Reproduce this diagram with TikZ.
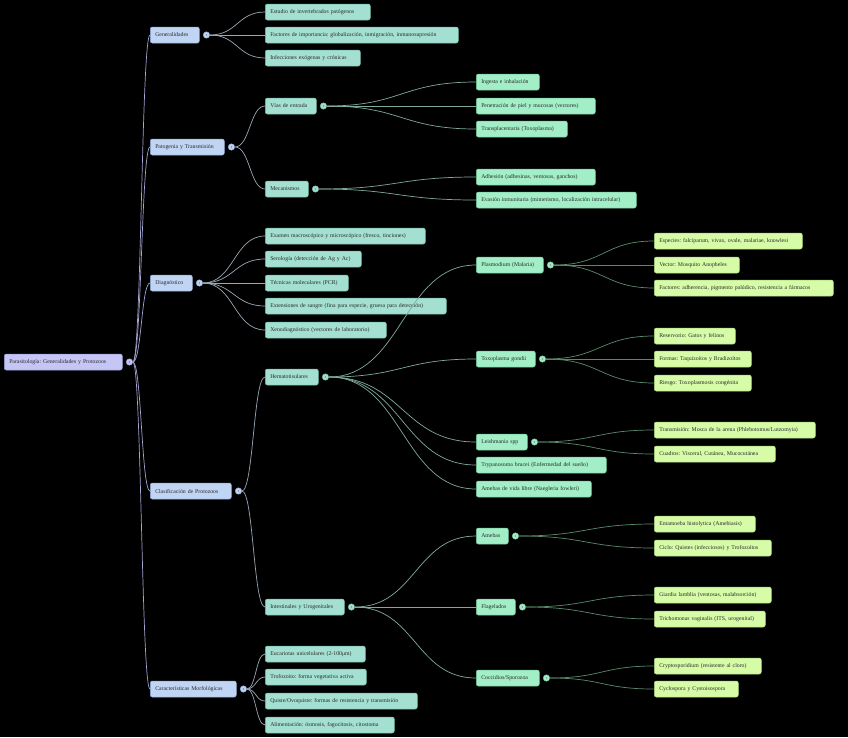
\documentclass[tikz,border=0pt]{standalone}
\usepackage{fontspec}
\setmainfont{Liberation Serif}
\usetikzlibrary{positioning,calc}
\frenchspacing
\definecolor{txt}{HTML}{2A2A2A}
\definecolor{c0}{HTML}{C5C6F6}\definecolor{c0d}{HTML}{9A9CD8}
\definecolor{c1}{HTML}{C0D5F3}\definecolor{c1d}{HTML}{90AAD4}
\definecolor{c2}{HTML}{A3E0D1}\definecolor{c2d}{HTML}{74B4A4}
\definecolor{c3}{HTML}{A2EEC6}\definecolor{c3d}{HTML}{72C49A}
\definecolor{c4}{HTML}{D6FCA8}\definecolor{c4d}{HTML}{A8D27E}
\definecolor{e0}{HTML}{A4A4D0}
\definecolor{e1}{HTML}{9AA8B4}
\definecolor{e2}{HTML}{80AA9C}
\definecolor{e3}{HTML}{5A8A6C}
\tikzset{
  box/.style={draw, rounded corners=2pt, anchor=west, minimum height=16pt,
    inner xsep=5pt, inner ysep=0pt, align=left, text=txt, line width=0.5pt,
    font=\fontsize{5.8}{6.8}\selectfont},
  lv0/.style={box, fill=c0, draw=c0d},
  lv1/.style={box, fill=c1, draw=c1d},
  lv2/.style={box, fill=c2, draw=c2d},
  lv3/.style={box, fill=c3, draw=c3d},
  lv4/.style={box, fill=c4, draw=c4d},
  tog/.style={circle, inner sep=0pt, minimum size=6.5pt, line width=0.4pt,
    path picture={\draw[line width=0.35pt, txt!60]
      ([shift={(0.6pt,1pt)}]path picture bounding box.center)
      -- ++(-1.2pt,-1pt) -- ++(1.2pt,-1pt);}},
  link/.style={to path={let \p1=(\tikztostart), \p2=(\tikztotarget.west) in
    (\p1) .. controls ({(\x1+\x2)/2},\y1) and ({(\x1+\x2)/2},\y2) .. (\p2)}},
}
\begin{document}
\begin{tikzpicture}[x=1pt,y=-1pt]
  \fill[black] (0,0) rectangle (848,737);
  \useasboundingbox (0,0) rectangle (848,737);
  % root and first level
  \node[lv0, text width=108pt] (root) at (4,362) {Parasitología: Generalidades y Protozoos};
  \node[lv1, text width=39pt] (gen) at (150,35) {Generalidades};
  \node[lv1, text width=64pt] (pat) at (150,147) {Patogenia y Transmisión};
  \node[lv1, text width=32pt] (diag) at (150,283) {Diagnóstico};
  \node[lv1, text width=71pt] (clas) at (150,491) {Clasificación de Protozoos};
  \node[lv1, text width=76pt] (carac) at (150,689) {Características Morfológicas};
  % second level
  \node[lv2, text width=95pt] (estudio) at (265,12) {Estudio de invertebrados patógenos};
  \node[lv2, text width=183pt] (factimp) at (265,35) {Factores de importancia: globalización, inmigración, inmunosupresión};
  \node[lv2, text width=85pt] (infec) at (265,58) {Infecciones exógenas y crónicas};
  \node[lv2, text width=41pt] (vias) at (265,106) {Vías de entrada};
  \node[lv2, text width=33pt] (mec) at (265,189) {Mecanismos};
  \node[lv2, text width=150pt] (examen) at (265,236) {Examen macroscópico y microscópico (fresco, tinciones)};
  \node[lv2, text width=86pt] (sero) at (265,259) {Serología (detección de Ag y Ac)};
  \node[lv2, text width=73pt] (tecn) at (265,283) {Técnicas moleculares (PCR)};
  \node[lv2, text width=171pt] (ext) at (265,306) {Extensiones de sangre (fina para especie, gruesa para detección)};
  \node[lv2, text width=111pt] (xeno) at (265,330) {Xenodiagnóstico (vectores de laboratorio)};
  \node[lv2, text width=43pt] (hema) at (265,377) {Hematotisulares};
  \node[lv2, text width=69pt] (intest) at (265,607) {Intestinales y Urogenitales};
  \node[lv2, text width=90pt] (euca) at (265,654) {Eucariotas unicelulares (2-100μm)};
  \node[lv2, text width=91pt] (trofo) at (265,677) {Trofozoito: forma vegetativa activa};
  \node[lv2, text width=142pt] (quiste) at (265,701) {Quiste/Ovoquiste: formas de resistencia y transmisión};
  \node[lv2, text width=119pt] (alim) at (265,725) {Alimentación: ósmosis, fagocitosis, citostoma};
  % third level
  \node[lv3, text width=53pt] (ingesta) at (476,82) {Ingesta e inhalación};
  \node[lv3, text width=109pt] (penet) at (476,106) {Penetración de piel y mucosas (vectores)};
  \node[lv3, text width=81pt] (transp) at (476,129) {Transplacentaria (Toxoplasma)};
  \node[lv3, text width=109pt] (adh) at (476,177) {Adhesión (adhesinas, ventosas, ganchos)};
  \node[lv3, text width=150pt] (evas) at (476,200) {Evasión inmunitaria (mimetismo, localización intracelular)};
  \node[lv3, text width=57pt] (plas) at (476,265) {Plasmodium (Malaria)};
  \node[lv3, text width=49pt] (toxo) at (476,359) {Toxoplasma gondii};
  \node[lv3, text width=41pt] (leish) at (476,442) {Leishmania spp};
  \node[lv3, text width=120pt] (trypa) at (476,465) {Trypanosoma brucei (Enfermedad del sueño)};
  \node[lv3, text width=105pt] (amvl) at (476,489) {Amebas de vida libre (Naegleria fowleri)};
  \node[lv3, text width=22pt] (amebas) at (476,536) {Amebas};
  \node[lv3, text width=29pt] (flag) at (476,607) {Flagelados};
  \node[lv3, text width=53pt] (cocc) at (476,678) {Coccidios/Sporozoa};
  % fourth level
  \node[lv4, text width=138pt] (espec) at (654,241) {Especies: falciparum, vivax, ovale, malariae, knowlesi};
  \node[lv4, text width=75pt] (vector) at (654,265) {Vector: Mosquito Anopheles};
  \node[lv4, text width=169pt] (factpl) at (654,288) {Factores: adherencia, pigmento palúdico, resistencia a fármacos};
  \node[lv4, text width=71pt] (reserv) at (654,336) {Reservorio: Gatos y felinos};
  \node[lv4, text width=87pt] (formas) at (654,359) {Formas: Taquizoítos y Bradizoítos};
  \node[lv4, text width=87pt] (riesgo) at (654,383) {Riesgo: Toxoplasmosis congénita};
  \node[lv4, text width=151pt] (transm) at (654,430) {Transmisión: Mosca de la arena (Phlebotomus/Lutzomyia)};
  \node[lv4, text width=111pt] (cuadros) at (654,454) {Cuadros: Visceral, Cutánea, Mucocutánea};
  \node[lv4, text width=91pt] (entam) at (654,524) {Entamoeba histolytica (Amebiasis)};
  \node[lv4, text width=107pt] (ciclo) at (654,548) {Ciclo: Quistes (infecciosos) y Trofozoítos};
  \node[lv4, text width=107pt] (giardia) at (654,595) {Giardia lamblia (ventosas, malabsorción)};
  \node[lv4, text width=101pt] (tricho) at (654,619) {Trichomonas vaginalis (ITS, urogenital)};
  \node[lv4, text width=97pt] (crypto) at (654,666) {Cryptosporidium (resistente al cloro)};
  \node[lv4, text width=74pt] (cyclo) at (654,689) {Cyclospora y Cystoisospora};
  % toggles
  \node[tog, fill=c0, draw=c0d, right=3.5pt of root] (root-t) {};
  \foreach \n in {gen,pat,diag,clas,carac}
    \node[tog, fill=c1, draw=c1d, right=3.5pt of \n] (\n-t) {};
  \foreach \n in {vias,mec,hema,intest}
    \node[tog, fill=c2, draw=c2d, right=3.5pt of \n] (\n-t) {};
  \foreach \n in {plas,toxo,leish,amebas,flag,cocc}
    \node[tog, fill=c3, draw=c3d, right=3.5pt of \n] (\n-t) {};
  % connectors
  \begin{scope}[line width=0.7pt]
    \draw[e0] (root-t.east) to[link] (gen);
    \draw[e0] (root-t.east) to[link] (pat);
    \draw[e0] (root-t.east) to[link] (diag);
    \draw[e0] (root-t.east) to[link] (clas);
    \draw[e0] (root-t.east) to[link] (carac);
    \draw[e1] (gen-t.east) to[link] (estudio);
    \draw[e1] (gen-t.east) to[link] (factimp);
    \draw[e1] (gen-t.east) to[link] (infec);
    \draw[e1] (pat-t.east) to[link] (vias);
    \draw[e1] (pat-t.east) to[link] (mec);
    \draw[e1] (diag-t.east) to[link] (examen);
    \draw[e1] (diag-t.east) to[link] (sero);
    \draw[e1] (diag-t.east) to[link] (tecn);
    \draw[e1] (diag-t.east) to[link] (ext);
    \draw[e1] (diag-t.east) to[link] (xeno);
    \draw[e1] (clas-t.east) to[link] (hema);
    \draw[e1] (clas-t.east) to[link] (intest);
    \draw[e1] (carac-t.east) to[link] (euca);
    \draw[e1] (carac-t.east) to[link] (trofo);
    \draw[e1] (carac-t.east) to[link] (quiste);
    \draw[e1] (carac-t.east) to[link] (alim);
    \draw[e2] (vias-t.east) to[link] (ingesta);
    \draw[e2] (vias-t.east) to[link] (penet);
    \draw[e2] (vias-t.east) to[link] (transp);
    \draw[e2] (mec-t.east) to[link] (adh);
    \draw[e2] (mec-t.east) to[link] (evas);
    \draw[e2] (hema-t.east) to[link] (plas);
    \draw[e2] (hema-t.east) to[link] (toxo);
    \draw[e2] (hema-t.east) to[link] (leish);
    \draw[e2] (hema-t.east) to[link] (trypa);
    \draw[e2] (hema-t.east) to[link] (amvl);
    \draw[e2] (intest-t.east) to[link] (amebas);
    \draw[e2] (intest-t.east) to[link] (flag);
    \draw[e2] (intest-t.east) to[link] (cocc);
    \draw[e3] (plas-t.east) to[link] (espec);
    \draw[e3] (plas-t.east) to[link] (vector);
    \draw[e3] (plas-t.east) to[link] (factpl);
    \draw[e3] (toxo-t.east) to[link] (reserv);
    \draw[e3] (toxo-t.east) to[link] (formas);
    \draw[e3] (toxo-t.east) to[link] (riesgo);
    \draw[e3] (leish-t.east) to[link] (transm);
    \draw[e3] (leish-t.east) to[link] (cuadros);
    \draw[e3] (amebas-t.east) to[link] (entam);
    \draw[e3] (amebas-t.east) to[link] (ciclo);
    \draw[e3] (flag-t.east) to[link] (giardia);
    \draw[e3] (flag-t.east) to[link] (tricho);
    \draw[e3] (cocc-t.east) to[link] (crypto);
    \draw[e3] (cocc-t.east) to[link] (cyclo);
  \end{scope}
\end{tikzpicture}
\end{document}
